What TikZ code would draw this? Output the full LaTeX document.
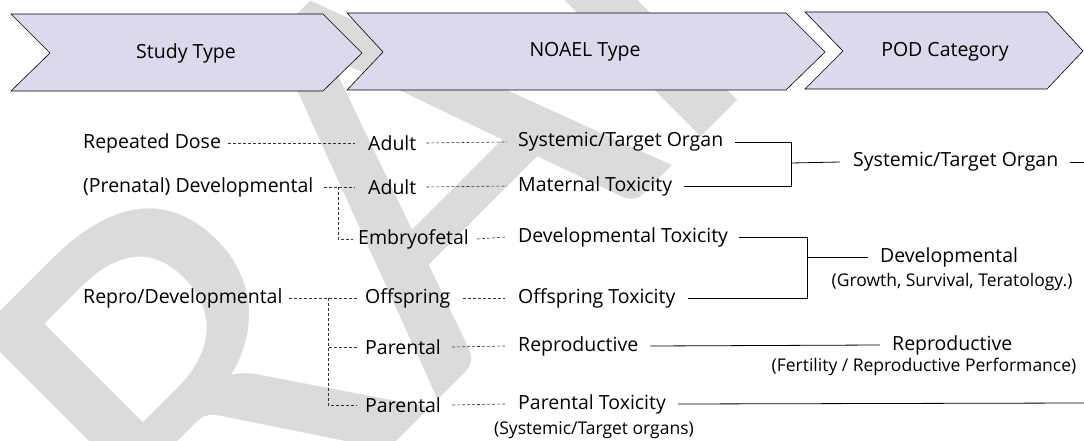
\documentclass[tikz,border=0pt]{standalone}
\usepackage{fontspec}
\setmainfont{Open Sans}
\newfontfamily\wmfont{Carlito}
\definecolor{wmgray}{RGB}{219,219,219}
\begin{document}
\begin{tikzpicture}[x=1pt,y=-1pt,
  lbl/.style={anchor=west,inner xsep=0pt,inner ysep=2pt,font=\fontsize{19.5}{22}\selectfont},
  sub/.style={inner sep=0pt,font=\fontsize{17.5}{20}\selectfont},
  hdr/.style={font=\fontsize{19.5}{22}\selectfont},
  chev/.style={fill={rgb,255:red,218;green,218;blue,236},draw=black,line width=0.6pt,line join=miter},
  dsh/.style={draw={rgb,255:red,50;green,50;blue,50},line width=0.6pt,dash pattern=on 3pt off 2pt},
  sol/.style={draw=black,line width=0.8pt}]
\useasboundingbox (0,0) rectangle (1084,441);
% watermark
\begin{scope}
\clip (0,0) rectangle (1084,441);
\node[rotate=45,text=wmgray,inner sep=0pt,font=\wmfont\fontsize{580}{580}\selectfont] (wm) at (380,195) {DRAFT};
\end{scope}
% chevrons
\draw[chev] (11,14) -- (323,14) -- (362,53) -- (323,91) -- (11,91) -- (50,53) -- cycle;
\draw[chev] (347,13) -- (786,13) -- (825,52) -- (786,90) -- (347,90) -- (383,52) -- cycle;
\draw[chev] (805,12) -- (1047,12) -- (1083,51) -- (1047,89) -- (805,89) -- (843,51) -- cycle;
\node[hdr] (h1) at (186,53) {Study Type};
\node[hdr] (h2) at (585,52) {NOAEL Type};
\node[hdr] (h3) at (945,52) {POD Category};
% study types
\node[lbl] (rd) at (83,143) {Repeated Dose};
\node[lbl] (pd) at (83,187) {(Prenatal) Developmental};
\node[lbl] (rpd) at (83,298) {Repro/Developmental};
% noael qualifiers
\node[lbl] (a1) at (368,143) {Adult};
\node[lbl] (a2) at (368,187) {Adult};
\node[lbl] (ef) at (358,239) {Embryofetal};
\node[lbl] (of) at (365,298) {Offspring};
\node[lbl] (p1) at (365,347) {Parental};
\node[lbl] (p2) at (365,405) {Parental};
% noael types
\node[lbl] (st) at (518,142) {Systemic/Target Organ};
\node[lbl] (mt) at (518,186) {Maternal Toxicity};
\node[lbl] (dt) at (518,237) {Developmental Toxicity};
\node[lbl] (ot) at (518,298) {Offspring Toxicity};
\node[lbl] (rp) at (518,346) {Reproductive};
\node[lbl] (pt) at (518,404) {Parental Toxicity};
\node[sub] (ptn) at (594,430) {(Systemic/Target organs)};
% POD categories
\node[lbl] (c1) at (853,162) {Systemic/Target Organ};
\node[lbl] (c2) at (880,257) {Developmental};
\node[sub] (c2n) at (952,282) {(Growth, Survival, Teratology.)};
\node[lbl] (c3) at (892,345) {Reproductive};
\node[sub] (c3n) at (924,367) {(Fertility / Reproductive Performance)};
% coordinates
\coordinate (j1) at (338,187);
\coordinate (j2) at (328,298);
\coordinate (b1) at (791,163);
\coordinate (b2) at (807,257);
\coordinate (e1) at (1084,162);
\coordinate (e2) at (1084,403);
% dashed connectors
\draw[dsh] ([xshift=7pt]rd.east) -- ([xshift=-13pt]a1.west);
\draw[dsh] ([xshift=10pt]a1.east) -- ([xshift=-11pt]st.west);
\draw[dsh] ([xshift=10pt]pd.east) -- ([xshift=-13pt]a2.west);
\draw[dsh] ([xshift=10pt]a2.east) -- ([xshift=-11pt]mt.west);
\draw[dsh] (j1) |- ([xshift=-5pt]ef.west);
\draw[dsh] ([xshift=8pt]ef.east) -- ([xshift=-13pt]dt.west);
\draw[dsh] ([xshift=6pt]rpd.east) -- ([xshift=-8pt]of.west);
\draw[dsh] ([xshift=12pt]of.east) -- ([xshift=-13pt]ot.west);
\draw[dsh] (j2) |- ([xshift=-8pt]p1.west);
\draw[dsh] (j2) |- ([xshift=-8pt]p2.west);
\draw[dsh] ([xshift=11pt]p1.east) -- ([xshift=-13pt]rp.west);
\draw[dsh] ([xshift=11pt]p2.east) -- ([xshift=-13pt]pt.west);
% solid connectors
\draw[sol] ([xshift=12pt]st.east) -| (b1);
\draw[sol] ([xshift=12pt]mt.east) -| (b1);
\draw[sol] (b1) -- ([xshift=-13pt]c1.west);
\draw[sol] ([xshift=12pt]c1.east) -- (e1);
\draw[sol] ([xshift=11pt]dt.east) -| (b2);
\draw[sol] ([xshift=12pt]ot.east) -| (b2);
\draw[sol] (b2) -- ([xshift=-12pt]c2.west);
\draw[sol] ([xshift=12pt]rp.east) -- ([xshift=-12pt]c3.west);
\draw[sol] ([xshift=12pt]pt.east) -- (e2);
\end{tikzpicture}
\end{document}
